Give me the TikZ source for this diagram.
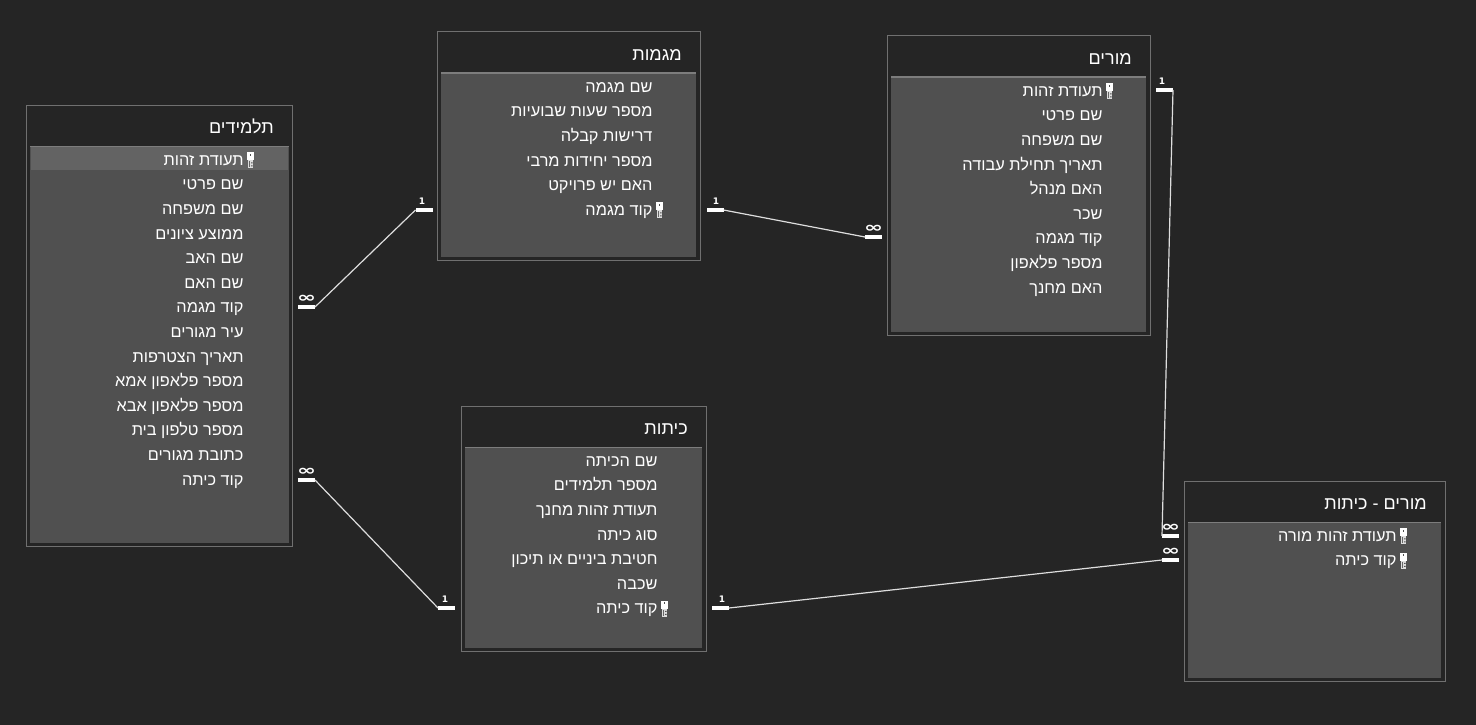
\documentclass[tikz,border=0pt]{standalone}
\usepackage{fontspec}
\usepackage{graphicx}
\usetikzlibrary{positioning,calc}
\TeXXeTstate=1
\newfontfamily\hebfont[Script=Hebrew]{Liberation Sans}
\newfontfamily\markfont{DejaVu Sans}
\definecolor{canvasbg}{RGB}{37,37,37}
\definecolor{framegray}{RGB}{112,112,112}
\definecolor{panelgray}{RGB}{80,80,80}
\definecolor{panelline}{RGB}{125,125,125}
\definecolor{selgray}{RGB}{99,99,99}
\definecolor{fieldtext}{RGB}{222,222,222}
\newcommand{\manymark}{\scalebox{1.9}[1.2]{∞}}

\begin{document}
\begin{tikzpicture}[x=1pt, y=-1pt,
  node distance=0pt,
  tableframe/.style={draw=framegray, line width=1pt, inner sep=0pt, outer sep=0pt, anchor=north west},
  panel/.style={fill=panelgray, inner sep=0pt, outer sep=0pt,
    below right=41pt and 4pt of #1.north west,
    path picture={\draw[panelline, line width=2pt] (path picture bounding box.north west) -- (path picture bounding box.north east);}},
  heading/.style={font=\hebfont\fontsize{18}{20}\selectfont, text=fieldtext, inner sep=0pt, minimum height=43pt,
    text height=15pt, text depth=1pt,
    below left=0pt and 18pt of #1.north east,
    execute at begin node=\beginR, execute at end node=\endR},
  field/.style={font=\hebfont\fontsize{16.3}{18}\selectfont, text=fieldtext, inner sep=0pt, outer sep=0pt, minimum height=24.6pt,
    text height=12pt, text depth=4pt},
  firstfield/.style={field, below left=3pt and 45.5pt of #1.north east,
    execute at begin node=\beginR, execute at end node=\endR},
  nextfield/.style={field, below=of #1.south east, anchor=north east,
    execute at begin node=\beginR, execute at end node=\endR},
  selrow/.style={fill=selgray, inner sep=0pt, minimum height=23pt, below=1pt of #1.north},
  keyglyph/.pic={
    \fill[white] (0,-9) rectangle (7.5,-1);
    \fill[panelgray] (3,-7.5) rectangle (4.5,-5.5);
    \fill[fieldtext] (1,-1) rectangle (6,7);
    \fill[panelgray] (4.5,1) rectangle (6,2) (4.5,4) rectangle (6,5);
    \fill[black!60] (2.5,0) rectangle (3.5,6);
  },
  bar/.style={fill=white, inner sep=0pt, outer sep=0pt, minimum width=17pt, minimum height=4pt},
  onelab/.style={font=\markfont\bfseries\fontsize{9}{9}\selectfont, text=white, inner sep=0pt, above=3pt of #1},
  manylab/.style={font=\markfont\bfseries\fontsize{12}{9}\selectfont, text=white, inner sep=0pt, above=2pt of #1},
  relline/.style={draw=fieldtext, line width=1.2pt},
]
\fill[canvasbg] (0,0) rectangle (1476,725);
\useasboundingbox (0,0) rectangle (1476,725);

\node[tableframe, minimum width=266pt, minimum height=441pt] (students) at (26,105) {};
\node[panel=students, minimum width=259pt, minimum height=397pt] (studentsp) {};
\node[selrow=studentsp, minimum width=257pt] (studentssel) {};
\node[heading=students] (studentst) {תלמידים};
\node[firstfield=studentsp] (s1) {תעודת זהות};
\node[nextfield=s1] (s2) {שם פרטי};
\node[nextfield=s2] (s3) {שם משפחה};
\node[nextfield=s3] (s4) {ממוצע ציונים};
\node[nextfield=s4] (s5) {שם האב};
\node[nextfield=s5] (s6) {שם האם};
\node[nextfield=s6] (s7) {קוד מגמה};
\node[nextfield=s7] (s8) {עיר מגורים};
\node[nextfield=s8] (s9) {תאריך הצטרפות};
\node[nextfield=s9] (s10) {מספר פלאפון אמא};
\node[nextfield=s10] (s11) {מספר פלאפון אבא};
\node[nextfield=s11] (s12) {מספר טלפון בית};
\node[nextfield=s12] (s13) {כתובת מגורים};
\node[nextfield=s13] (s14) {קוד כיתה};
\coordinate[right=3pt of s1.east] (s1key);
\pic at (s1key) {keyglyph};

\node[tableframe, minimum width=263pt, minimum height=228pt] (majors) at (437,32) {};
\node[panel=majors, minimum width=255pt, minimum height=184pt] (majorsp) {};
\node[heading=majors] (majorst) {מגמות};
\node[firstfield=majorsp, xshift=2pt] (m1) {שם מגמה};
\node[nextfield=m1] (m2) {מספר שעות שבועיות};
\node[nextfield=m2] (m3) {דרישות קבלה};
\node[nextfield=m3] (m4) {מספר יחידות מרבי};
\node[nextfield=m4] (m5) {האם יש פרויקט};
\node[nextfield=m5] (m6) {קוד מגמה};
\coordinate[right=3pt of m6.east] (m6key);
\pic at (m6key) {keyglyph};

\node[tableframe, minimum width=263pt, minimum height=299pt] (teachers) at (887,36) {};
\node[panel=teachers, minimum width=255pt, minimum height=255pt] (teachersp) {};
\node[heading=teachers] (teacherst) {מורים};
\node[firstfield=teachersp, xshift=2pt] (t1) {תעודת זהות};
\node[nextfield=t1] (t2) {שם פרטי};
\node[nextfield=t2] (t3) {שם משפחה};
\node[nextfield=t3] (t4) {תאריך תחילת עבודה};
\node[nextfield=t4] (t5) {האם מנהל};
\node[nextfield=t5] (t6) {שכר};
\node[nextfield=t6] (t7) {קוד מגמה};
\node[nextfield=t7] (t8) {מספר פלאפון};
\node[nextfield=t8] (t9) {האם מחנך};
\coordinate[right=3pt of t1.east] (t1key);
\pic at (t1key) {keyglyph};

\node[tableframe, minimum width=245pt, minimum height=245pt] (classes) at (461,406) {};
\node[panel=classes, minimum width=237pt, minimum height=201pt] (classesp) {};
\node[heading=classes] (classest) {כיתות};
\node[firstfield=classesp, xshift=1pt] (c1) {שם הכיתה};
\node[nextfield=c1] (c2) {מספר תלמידים};
\node[nextfield=c2] (c3) {תעודת זהות מחנך};
\node[nextfield=c3] (c4) {סוג כיתה};
\node[nextfield=c4] (c5) {חטיבת ביניים או תיכון};
\node[nextfield=c5] (c6) {שכבה};
\node[nextfield=c6] (c7) {קוד כיתה};
\coordinate[right=3pt of c7.east] (c7key);
\pic at (c7key) {keyglyph};

\node[tableframe, minimum width=261pt, minimum height=200pt] (teachclass) at (1184,481) {};
\node[panel=teachclass, minimum width=253pt, minimum height=156pt] (teachclassp) {};
\node[heading=teachclass] (teachclasst) {מורים - כיתות};
\node[firstfield=teachclassp, xshift=1pt] (tc1) {תעודת זהות מורה};
\node[nextfield=tc1] (tc2) {קוד כיתה};
\coordinate[right=3pt of tc1.east] (tc1key);
\coordinate[right=3pt of tc2.east] (tc2key);
\pic at (tc1key) {keyglyph};
\pic at (tc2key) {keyglyph};

\node[bar] (smany) at (306.5,307) {};
\node[manylab=smany] (smanyl) {\manymark};
\node[bar] (mone) at (424,210) {};
\node[onelab=mone, xshift=-2pt] (monel) {1};
\draw[relline] (smany.east) -- (mone.west);

\node[bar] (mtone) at (715,210) {};
\node[onelab=mtone, xshift=1pt] (mtonel) {1};
\node[bar] (tmany) at (873.5,237) {};
\node[manylab=tmany] (tmanyl) {\manymark};
\draw[relline] (mtone.east) -- (tmany.west);

\node[bar] (tone) at (1164.5,90) {};
\node[onelab=tone, xshift=-2.5pt] (tonel) {1};
\node[bar] (tcmany) at (1170.5,536) {};
\node[manylab=tcmany] (tcmanyl) {\manymark};
\draw[relline] (tone.east) -- (tcmany.west);

\node[bar] (scmany) at (306.5,480) {};
\node[manylab=scmany] (scmanyl) {\manymark};
\node[bar] (cone) at (446.5,608) {};
\node[onelab=cone, xshift=-1.5pt] (conel) {1};
\draw[relline] (scmany.east) -- (cone.west);

\node[bar] (ctone) at (720.5,608) {};
\node[onelab=ctone, xshift=1.5pt] (ctonel) {1};
\node[bar] (ctmany) at (1170.5,560) {};
\node[manylab=ctmany] (ctmanyl) {\manymark};
\draw[relline] (ctone.east) -- (ctmany.west);
\end{tikzpicture}
\end{document}
